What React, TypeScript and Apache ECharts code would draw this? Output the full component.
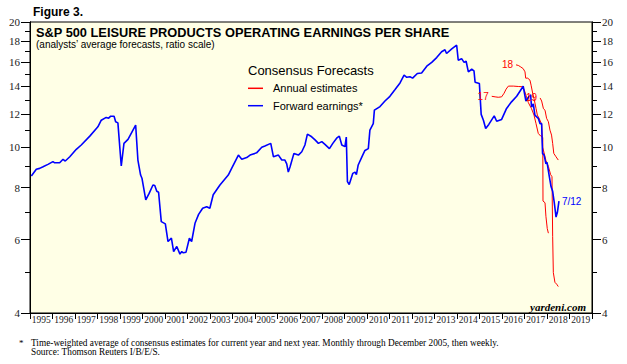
import React, { useEffect, useRef } from "react";
import * as echarts from "echarts";

const yearLabels = ["1995","1996","1997","1998","1999","2000","2001","2002","2003","2004","2005","2006","2007","2008","2009","2010","2011","2012","2013","2014","2015","2016","2017","2018","2019"];
const majorTicks = [4, 6, 8, 10, 12, 14, 16, 18, 20];
const minorTicks = [5, 7, 9, 11, 13, 15, 17, 19];

const forwardEarnings: [number, number][] = [
  [1995.06, 8.53], [1995.28, 8.86], [1995.43, 8.9], [1995.58, 8.98], [1995.8, 9.1],
  [1996.02, 9.24], [1996.1, 9.18], [1996.32, 9.18], [1996.47, 9.36], [1996.57, 9.27],
  [1996.77, 9.49], [1997.06, 9.89], [1997.28, 10.13], [1997.66, 10.64], [1998.02, 11.2],
  [1998.17, 11.62], [1998.39, 11.8], [1998.5, 11.75], [1998.59, 11.88], [1998.74, 11.88],
  [1998.81, 11.52], [1998.91, 11.45], [1999.06, 9.02], [1999.18, 10.22], [1999.36, 10.45],
  [1999.7, 11.31], [1999.8, 9.32], [1999.92, 8.58], [1999.98, 8.43], [2000.15, 7.48],
  [2000.3, 7.75], [2000.47, 8.12], [2000.55, 8.1], [2000.64, 7.84], [2000.72, 7.8],
  [2000.84, 6.63], [2001.02, 6.55], [2001.14, 5.94], [2001.29, 6.05], [2001.39, 5.62],
  [2001.53, 5.78], [2001.67, 5.54], [2001.75, 5.62], [2001.82, 5.58], [2001.94, 5.6],
  [2002.09, 6.05], [2002.19, 5.94], [2002.34, 6.57], [2002.5, 6.9], [2002.68, 7.14],
  [2002.86, 7.2], [2003.0, 7.14], [2003.15, 7.69], [2003.45, 8.12], [2003.82, 8.58],
  [2003.97, 8.9], [2004.27, 9.58], [2004.42, 9.36], [2004.64, 9.45], [2004.79, 9.58],
  [2005.08, 9.7], [2005.31, 10.0], [2005.45, 10.07], [2005.71, 10.22], [2005.83, 9.49],
  [2006.05, 9.58], [2006.2, 9.32], [2006.34, 9.32], [2006.42, 9.13], [2006.49, 8.72],
  [2006.57, 8.98], [2006.74, 9.67], [2006.94, 9.58], [2007.09, 9.76], [2007.23, 10.13],
  [2007.34, 10.76], [2007.53, 10.6], [2007.68, 10.42], [2007.83, 10.22], [2007.98, 10.32],
  [2008.12, 10.16], [2008.32, 9.93], [2008.47, 10.22], [2008.64, 10.52], [2008.76, 10.64],
  [2008.87, 10.13], [2009.01, 10.04], [2009.07, 10.58], [2009.12, 8.27], [2009.2, 8.14],
  [2009.36, 8.66], [2009.46, 8.72], [2009.52, 8.6], [2009.6, 9.07], [2009.8, 9.58],
  [2009.9, 9.83], [2010.05, 9.93], [2010.12, 11.0], [2010.27, 11.4], [2010.32, 12.28],
  [2010.57, 12.53], [2010.79, 12.92], [2011.01, 13.26], [2011.24, 13.77], [2011.46, 14.28],
  [2011.64, 14.9], [2011.76, 14.73], [2011.9, 14.78], [2012.02, 14.66], [2012.23, 15.04],
  [2012.42, 15.09], [2012.65, 15.66], [2012.87, 16.0], [2013.09, 16.43], [2013.31, 16.96],
  [2013.46, 17.15], [2013.53, 16.8], [2013.76, 17.23], [2013.98, 17.59], [2014.05, 16.19],
  [2014.2, 16.33], [2014.31, 16.0], [2014.4, 16.1], [2014.5, 15.18], [2014.65, 15.4],
  [2014.75, 15.27], [2014.8, 14.33], [2014.99, 14.23], [2015.07, 12.0], [2015.17, 11.62],
  [2015.27, 11.1], [2015.41, 11.35], [2015.65, 11.9], [2015.76, 11.55], [2015.98, 11.67],
  [2016.2, 12.4], [2016.42, 12.86], [2016.65, 13.26], [2016.94, 14.02], [2017.06, 12.92],
  [2017.17, 13.19], [2017.27, 13.37], [2017.31, 12.5], [2017.39, 12.72], [2017.46, 11.95],
  [2017.61, 11.74], [2017.69, 11.4], [2017.76, 11.4], [2017.8, 9.67], [2017.87, 9.58],
  [2017.95, 9.13], [2018.0, 9.2], [2018.1, 8.52], [2018.18, 8.04], [2018.25, 7.84],
  [2018.32, 7.38], [2018.4, 6.8], [2018.46, 6.98], [2018.53, 7.43]
];

const annual2017: [number, number][] = [
  [2015.54, 13.26], [2015.69, 13.22], [2015.83, 13.19], [2015.98, 13.22], [2016.09, 13.49],
  [2016.18, 13.8], [2016.28, 14.03], [2016.5, 14.03], [2016.72, 14.0], [2016.92, 13.98],
  [2016.99, 13.72], [2017.1, 13.14], [2017.17, 12.8], [2017.31, 12.38], [2017.42, 11.95],
  [2017.51, 11.4], [2017.61, 10.8], [2017.72, 10.64], [2017.81, 10.56], [2017.82, 7.43],
  [2017.91, 7.36], [2017.95, 6.83], [2018.01, 6.38], [2018.06, 6.22]
];

const annual2018: [number, number][] = [
  [2016.62, 15.78], [2016.72, 15.73], [2016.83, 15.6], [2016.94, 15.45], [2017.02, 15.18],
  [2017.05, 14.66], [2017.14, 14.66], [2017.24, 14.5], [2017.29, 14.1], [2017.36, 13.5],
  [2017.42, 13.1], [2017.51, 12.4], [2017.57, 11.95], [2017.66, 11.7], [2017.76, 11.35],
  [2017.8, 10.0], [2017.87, 9.7], [2017.95, 9.3], [2018.06, 9.0], [2018.16, 8.6],
  [2018.22, 8.5], [2018.25, 6.1], [2018.28, 5.0], [2018.35, 4.74], [2018.43, 4.69],
  [2018.5, 4.63]
];

const annual2019: [number, number][] = [
  [2017.69, 13.14], [2017.76, 12.92], [2017.84, 12.38], [2017.91, 12.28], [2017.98, 11.74],
  [2018.06, 11.52], [2018.13, 11.0], [2018.2, 10.7], [2018.25, 10.22], [2018.3, 9.67],
  [2018.4, 9.49], [2018.5, 9.32]
];

const SERIF = "'Liberation Serif', 'Times New Roman', serif";
const SANS = "'Liberation Sans', Arial, sans-serif";
const RED = "#ff0000";
const BLUE = "#0000ff";

function yAxisDef(position: "left" | "right", ticks: number[], len: number, showLabels: boolean) {
  return {
    type: "log",
    logBase: 10,
    min: 4,
    max: 20,
    position,
    axisLine: { show: true, lineStyle: { color: "#000", width: 1 } },
    axisTick: { show: true, customValues: ticks, length: len, lineStyle: { color: "#000", width: 1 } },
    axisLabel: showLabels
      ? { show: true, customValues: ticks, fontFamily: SERIF, fontSize: 11, color: "#222", margin: 10 }
      : { show: false },
    splitLine: { show: false },
    minorTick: { show: false },
  };
}

function redSeries(name: string, data: [number, number][], label: string) {
  return {
    name,
    type: "line",
    xAxisIndex: 0,
    yAxisIndex: 0,
    data,
    showSymbol: false,
    silent: true,
    lineStyle: { color: RED, width: 1 },
    itemStyle: { color: RED },
    z: 2,
    markPoint: {
      symbol: "circle",
      symbolSize: 0,
      silent: true,
      data: [
        {
          coord: data[0],
          label: {
            show: true,
            position: "left",
            distance: 3,
            formatter: label,
            color: RED,
            fontSize: 10,
            fontFamily: SANS,
          },
        },
      ],
    },
  };
}

export default function App() {
  const ref = useRef<HTMLDivElement>(null);
  useEffect(() => {
    if (!ref.current) return;
    const chart = echarts.init(ref.current, null, { renderer: "svg" });
    const option: any = {
      animation: false,
      backgroundColor: "#ffffff",
      grid: {
        left: 30,
        right: 35,
        top: 22,
        bottom: 51,
        show: true,
        backgroundColor: "#ffffe6",
        borderColor: "#000",
        borderWidth: 1,
      },
      xAxis: [
        { type: "value", min: 1995, max: 2020, show: false },
        {
          type: "category",
          data: yearLabels,
          boundaryGap: true,
          position: "bottom",
          axisLine: { show: true, lineStyle: { color: "#000", width: 1 } },
          axisTick: { show: true, length: 6, interval: 0, lineStyle: { color: "#000" } },
          axisLabel: { interval: 0, fontFamily: SERIF, fontSize: 9.5, color: "#222", margin: 2 },
          splitLine: { show: false },
        },
      ],
      yAxis: [
        yAxisDef("left", majorTicks, 9, true),
        yAxisDef("left", minorTicks, 5, false),
        yAxisDef("right", majorTicks, 9, true),
        yAxisDef("right", minorTicks, 5, false),
      ],
      series: [
        redSeries("Annual estimates", annual2017, "17"),
        redSeries("Annual estimates", annual2018, "18"),
        redSeries("Annual estimates", annual2019, "19"),
        {
          name: "Forward earnings*",
          type: "line",
          xAxisIndex: 0,
          yAxisIndex: 0,
          data: forwardEarnings,
          showSymbol: false,
          silent: true,
          z: 3,
          lineStyle: { color: BLUE, width: 1.6 },
          itemStyle: { color: BLUE },
          endLabel: {
            show: true,
            formatter: "7/12",
            color: BLUE,
            fontSize: 10,
            fontFamily: SANS,
            distance: 3,
          },
        },
      ],
      graphic: [
        { type: "text", x: 33, y: 11.5, style: { text: "Figure 3.", font: `bold 12px ${SANS}`, fill: "#000", verticalAlign: "middle", textVerticalAlign: "middle" } },
        { type: "text", x: 36, y: 32, style: { text: "S&P 500 LEISURE PRODUCTS OPERATING EARNINGS PER SHARE", font: `bold 12.8px ${SANS}`, fill: "#000", verticalAlign: "middle", textVerticalAlign: "middle" } },
        { type: "text", x: 36, y: 44.5, style: { text: "(analysts’ average forecasts, ratio scale)", font: `10px ${SANS}`, fill: "#000", verticalAlign: "middle", textVerticalAlign: "middle" } },
        { type: "text", x: 248, y: 70, style: { text: "Consensus Forecasts", font: `13px ${SANS}`, fill: "#000", verticalAlign: "middle", textVerticalAlign: "middle" } },
        { type: "line", shape: { x1: 248, y1: 88.3, x2: 263, y2: 88.3 }, style: { stroke: RED, lineWidth: 1.5 } },
        { type: "text", x: 273, y: 88.3, style: { text: "Annual estimates", font: `11px ${SANS}`, fill: "#000", verticalAlign: "middle", textVerticalAlign: "middle" } },
        { type: "line", shape: { x1: 248, y1: 105.7, x2: 263, y2: 105.7 }, style: { stroke: BLUE, lineWidth: 1.5 } },
        { type: "text", x: 273, y: 105.7, style: { text: "Forward earnings*", font: `11px ${SANS}`, fill: "#000", verticalAlign: "middle", textVerticalAlign: "middle" } },
        { type: "text", x: 586, y: 307, style: { text: "yardeni.com", font: `italic bold 11px ${SERIF}`, fill: "#000", align: "right", textAlign: "right", verticalAlign: "middle", textVerticalAlign: "middle" } },
        { type: "text", x: 19, y: 338, style: { text: "*", font: `9px ${SERIF}`, fill: "#000" } },
        { type: "text", x: 31, y: 338, style: { text: "Time-weighted average of consensus estimates for current year and next year. Monthly through December 2005, then weekly.\nSource: Thomson Reuters I/B/E/S.", font: `9.3px ${SERIF}`, lineHeight: 9.3, fill: "#000" } },
      ],
    };
    chart.setOption(option);
    return () => chart.dispose();
  }, []);
  return <div ref={ref} style={{ position: "fixed", left: 0, top: 0, width: 627, height: 364 }} />;
}
